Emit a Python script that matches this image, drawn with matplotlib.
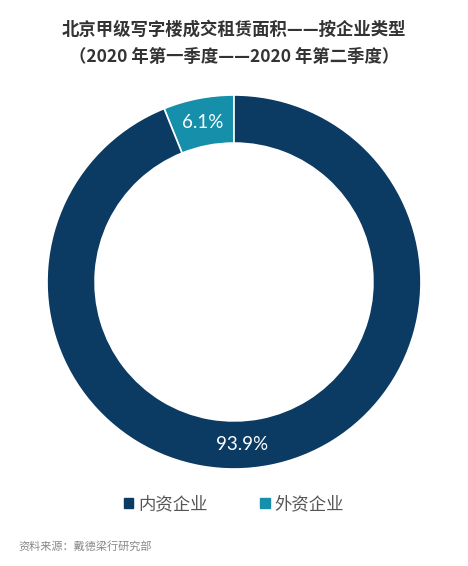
import matplotlib
matplotlib.use("Agg")
import matplotlib.pyplot as plt
import numpy as np
from matplotlib.patches import Patch

plt.rcParams['font.family'] = ['Noto Sans CJK SC', 'DejaVu Sans']

categories = ['外资企业', '内资企业']
values = [6.1, 93.9]
colors = ['#168fab', '#0b3a63']
title_lines = ['北京甲级写字楼成交租赁面积——按企业类型', '（2020 年第一季度——2020 年第二季度）']
source = '资料来源：戴德梁行研究部'

fig = plt.figure(figsize=(4.68, 5.66), dpi=100)
ax = fig.add_axes([(234 - 187) / 468, 1 - (282 + 187) / 566, 374 / 468, 374 / 566])

wedges, texts, autotexts = ax.pie(
    values, colors=colors, startangle=90, counterclock=True,
    autopct=lambda p: f'{p:.1f}%', pctdistance=0.87,
    wedgeprops=dict(width=0.257, edgecolor='white', linewidth=1.2),
    textprops=dict(color='white', fontsize=13.5, family=['Lato', 'DejaVu Sans']),
)
ax.set_xlim(-1, 1)
ax.set_ylim(-1, 1)
ax.set_aspect('equal')
# shift large-slice label toward bottom center
ang = np.deg2rad(273)
autotexts[1].set_position((0.87 * np.cos(ang), 0.87 * np.sin(ang)))

fig.text(0.5, 1 - 30 / 566, title_lines[0], ha='center', va='center',
         fontsize=12.5, fontweight='bold', color='#333333')
fig.text(0.5, 1 - 57 / 566, title_lines[1], ha='center', va='center',
         fontsize=12.5, fontweight='bold', color='#333333')

handles = [Patch(color=colors[1]), Patch(color=colors[0])]
leg = fig.legend(handles, [categories[1], categories[0]], loc='center',
                 bbox_to_anchor=(0.5, 1 - 504 / 566), ncol=2, frameon=False,
                 fontsize=12.5, handlelength=0.55, handleheight=0.55,
                 handletextpad=0.3, columnspacing=3.0)
for t in leg.get_texts():
    t.set_color('#555555')

fig.text(18 / 468, 1 - 546 / 566, source, ha='left', va='center',
         fontsize=8, color='#888888')

fig.savefig('out.png', dpi=100, facecolor='white')
